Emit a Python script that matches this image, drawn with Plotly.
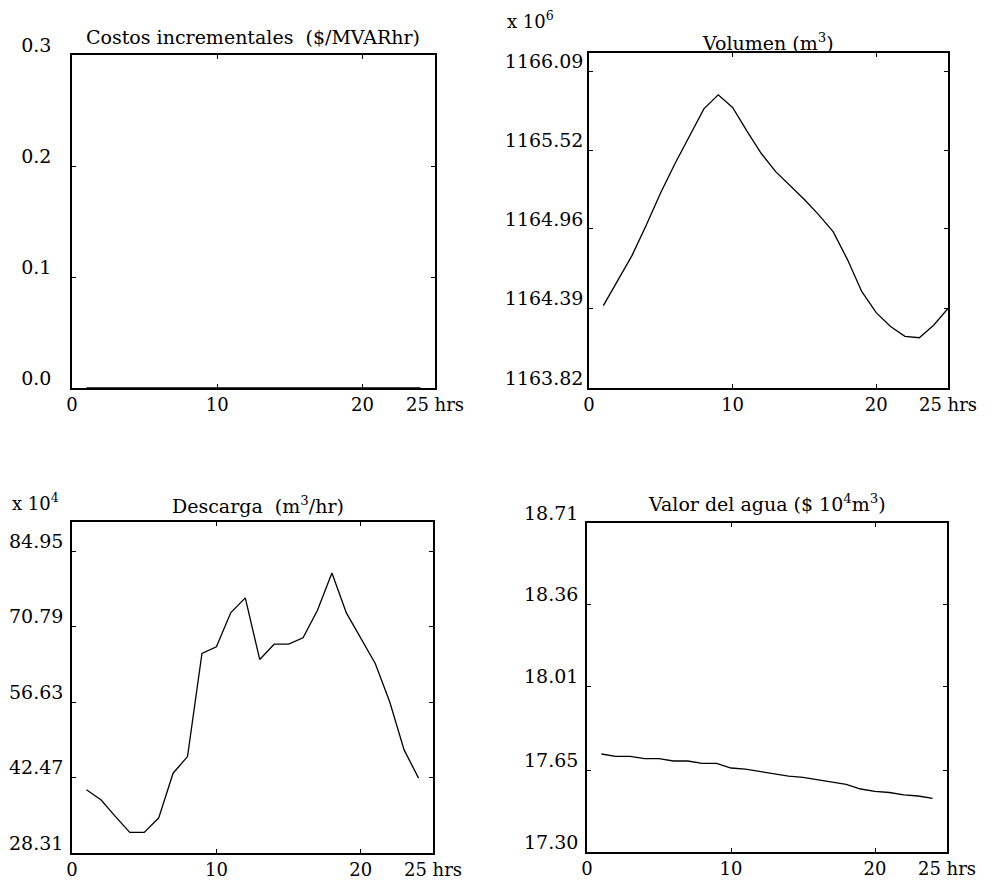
import plotly.graph_objects as go

# ---- data ----
hours_24 = list(range(1, 25))
hours_25 = list(range(1, 26))

costos = [0.0] * 24  # $/MVARhr

volumen = [1164.41, 1164.59, 1164.77, 1164.99, 1165.22, 1165.43, 1165.63, 1165.82,
           1165.92, 1165.83, 1165.66, 1165.50, 1165.37, 1165.27, 1165.17, 1165.06,
           1164.94, 1164.74, 1164.51, 1164.36, 1164.26, 1164.19, 1164.18, 1164.27,
           1164.39]  # x 10^6 m3

descarga = [40.16, 38.29, 35.17, 32.18, 32.18, 34.86, 43.28, 46.40, 65.74, 66.99,
            73.41, 76.16, 64.62, 67.48, 67.48, 68.67, 73.85, 80.84, 73.35, 68.67,
            63.87, 56.69, 47.65, 42.35]  # x 10^4 m3/hr

valor_agua = [17.72, 17.71, 17.71, 17.70, 17.70, 17.69, 17.69, 17.68, 17.68, 17.66,
              17.655, 17.645, 17.635, 17.625, 17.62, 17.61, 17.60, 17.59, 17.57,
              17.56, 17.555, 17.545, 17.54, 17.53]

x_tickvals = [0, 10, 20, 25]
x_ticktext = ["0", "10", "20", "25 hrs"]

costos_ticks = [0.0, 0.1, 0.2, 0.3]
costos_labels = ["0.0", "0.1", "0.2", "0.3"]
vol_ticks = [1163.82, 1164.39, 1164.96, 1165.52, 1166.09]
desc_ticks = [28.31, 42.47, 56.63, 70.79, 84.95]
valor_ticks = [17.30, 17.65, 18.01, 18.36, 18.71]

titles = ["Costos incrementales  ($/MVARhr)", "Volumen (m<sup>3</sup>)",
          "Descarga  (m<sup>3</sup>/hr)", "Valor del agua ($ 10<sup>4</sup>m<sup>3</sup>)"]

OFF = 8  # page body margin
W, H = 993 - OFF, 882 - OFF
FONT = "DejaVu Serif"
FS = 19

def px(x):
    return (x - OFF) / W

def py(y):
    return 1 - (y - OFF) / H

fig = go.Figure()
line = dict(color="black", width=1.3)
fig.add_trace(go.Scatter(x=hours_24, y=costos, mode="lines", line=line, xaxis="x", yaxis="y"))
fig.add_trace(go.Scatter(x=hours_25, y=volumen, mode="lines", line=line, xaxis="x2", yaxis="y2"))
fig.add_trace(go.Scatter(x=hours_24, y=descarga, mode="lines", line=line, xaxis="x3", yaxis="y3"))
fig.add_trace(go.Scatter(x=hours_24, y=valor_agua, mode="lines", line=line, xaxis="x4", yaxis="y4"))

# screen pixel boxes: (left, right, top, bottom)
boxes = [(72, 435, 55, 388), (589, 948, 53, 388), (72, 433, 522, 853), (587, 947, 523, 852)]

common_axis = dict(showline=True, linecolor="black", linewidth=1.5, mirror="ticks",
                   ticks="inside", ticklen=4, tickcolor="black", showgrid=False,
                   zeroline=False, automargin=False,
                   tickfont=dict(family=FONT, size=FS, color="black"))

yinfo = [
    dict(range=[0, 0.3], tickvals=costos_ticks, ticktext=costos_labels, standoff=15),
    dict(range=[1163.82, 1166.22], tickvals=vol_ticks, ticktext=[f"{v:.2f}" for v in vol_ticks], standoff=0),
    dict(range=[28.31, 90.4], tickvals=desc_ticks, ticktext=[f"{v:.2f}" for v in desc_ticks], standoff=3),
    dict(range=[17.30, 18.71], tickvals=valor_ticks, ticktext=[f"{v:.2f}" for v in valor_ticks], standoff=3),
]

layout = dict(width=W, height=H, margin=dict(l=0, r=0, t=0, b=0),
              paper_bgcolor="white", plot_bgcolor="white", showlegend=False,
              template="none", font=dict(family=FONT, size=FS, color="black"))

annotations = []
for i, (l, r, t, b) in enumerate(boxes):
    sfx = "" if i == 0 else str(i + 1)
    layout["xaxis" + sfx] = dict(common_axis, domain=[px(l), px(r)], range=[0, 25],
                                 tickvals=x_tickvals, ticktext=x_ticktext,
                                 tickfont=dict(family=FONT, size=FS - 1, color="black"),
                                 ticklabelstandoff=0, anchor="y" + sfx)
    yi = yinfo[i]
    layout["yaxis" + sfx] = dict(common_axis, domain=[py(b), py(t)], range=yi["range"],
                                 tickvals=yi["tickvals"], ticktext=yi["ticktext"],
                                 ticklabelstandoff=yi["standoff"], ticklabelshift=-10,
                                 anchor="x" + sfx)

title_pos = [(253, 37), (768, 42), (258, 505), (767, 503)]
for (cx, cy), txt in zip(title_pos, titles):
    annotations.append(dict(text=txt, x=px(cx), y=py(cy), xref="paper", yref="paper",
                            showarrow=False, xanchor="center", yanchor="middle",
                            font=dict(family=FONT, size=FS, color="black")))

annotations.append(dict(text="x 10<sup>6</sup>", x=px(505), y=py(20), xref="paper", yref="paper",
                        showarrow=False, xanchor="left", yanchor="middle",
                        font=dict(family=FONT, size=FS - 1, color="black")))
annotations.append(dict(text="x 10<sup>4</sup>", x=px(10), y=py(502), xref="paper", yref="paper",
                        showarrow=False, xanchor="left", yanchor="middle",
                        font=dict(family=FONT, size=FS - 1, color="black")))
layout["annotations"] = annotations

fig.update_layout(**layout)
fig.write_html("out.html")
